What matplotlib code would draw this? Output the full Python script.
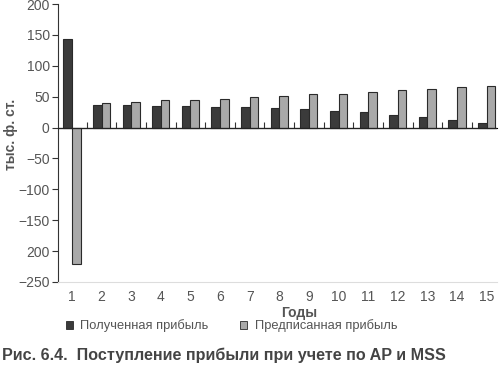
import numpy as np
import matplotlib
matplotlib.use('Agg')
import matplotlib.pyplot as plt
from matplotlib.patches import Patch

plt.rcParams['font.family'] = ['Liberation Sans', 'DejaVu Sans']

# Данные
years = list(range(1, 16))
received = [143, 36, 36, 35, 35, 34, 33, 32, 30, 27, 25, 21, 17, 13, 7]
prescribed = [-221, 39, 41, 44, 45, 47, 49, 51, 54, 55, 58, 61, 63, 65, 68]
yticks = [200, 150, 100, 50, 0, -50, -100, -150, -200, -250]
ytick_labels = ['200', '150', '100', '50', '0', '\u221250', '\u2212100', '\u2212150', '200', '\u2212250']

dark = '#3b3b3b'
light = '#a9a9a9'
edge = '#2a2a2a'
txt = '#555555'

fig = plt.figure(figsize=(5, 3.69), dpi=100)
ax = fig.add_axes([0.116, 0.236, 0.878, 0.753])

x = np.array(years)
w = 0.29
ax.bar(x - w / 2, received, w, color=dark, edgecolor=edge, linewidth=0.8)
ax.bar(x + w / 2, prescribed, w, color=light, edgecolor=edge, linewidth=0.8)

ax.set_xlim(0.53, 15.35)
ax.set_ylim(-250, 200)
ax.set_yticks(yticks)
ax.set_yticklabels(ytick_labels)
ax.set_xticks(x)
ax.set_xticklabels([str(v) for v in years])
ax.tick_params(axis='x', length=0, pad=6, labelsize=10, colors=txt)
ax.tick_params(axis='y', length=4, width=0.8, direction='out', pad=2,
               labelsize=10, labelcolor=txt, color='#333333')

for s in ['top', 'right']:
    ax.spines[s].set_visible(False)
ax.spines['left'].set_color('#333333')
ax.spines['left'].set_linewidth(0.8)
ax.spines['bottom'].set_color('#dddddd')
ax.spines['bottom'].set_linewidth(0.8)

# нулевая линия с делениями между годами
ax.axhline(0, color='#222222', linewidth=0.9, zorder=3)
sec = ax.secondary_xaxis(250 / 450)
sec.set_xticks(x[:-1] + 0.5)
sec.set_xticklabels([])
sec.tick_params(length=4, width=0.8, direction='out', color='#333333')
sec.spines['bottom'].set_visible(False)

ax.set_ylabel('тыс. ф. ст.', fontsize=10, fontweight='bold', color=txt, labelpad=6)
ax.yaxis.set_label_coords(-0.09, 0.53)
ax.set_xlabel('Годы', fontsize=10, fontweight='bold', color=txt, labelpad=1)
ax.xaxis.set_label_coords(0.55, -0.085)

handles = [Patch(facecolor=dark, edgecolor=edge, linewidth=0.6),
           Patch(facecolor=light, edgecolor=edge, linewidth=0.6)]
fig.legend(handles, ['Полученная прибыль', 'Предписанная прибыль'],
           loc='center left', bbox_to_anchor=(0.108, 0.117), ncol=2,
           frameon=False, fontsize=9.3, handlelength=0.55, handleheight=0.55,
           handletextpad=0.6, columnspacing=2.4, labelcolor=txt)

fig.text(0.004, 0.038, 'Рис. 6.4.  Поступление прибыли при учете по AP и MSS',
         fontsize=11.6, fontweight='bold', color='#444444', ha='left', va='center')

fig.savefig('out.png', dpi=100)
